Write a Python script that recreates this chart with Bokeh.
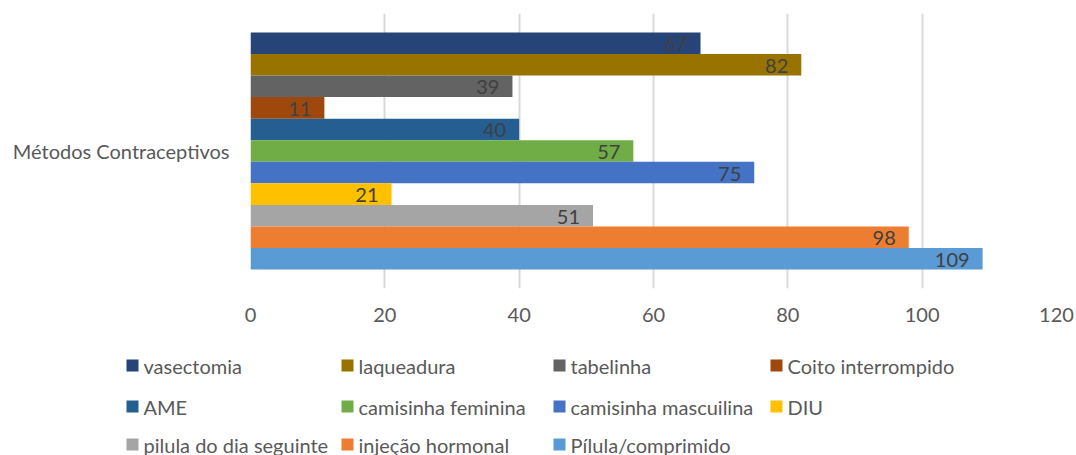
from bokeh.plotting import figure
from bokeh.models import ColumnDataSource, FactorRange, Range1d, FixedTicker
from bokeh.transform import dodge
from bokeh.layouts import column
from bokeh.embed import file_html
from bokeh.resources import INLINE
from bokeh.core.properties import value

# ---- data ----
category = "Métodos Contraceptivos"
series = ["vasectomia", "laqueadura", "tabelinha", "Coito interrompido",
          "AME", "camisinha feminina", "camisinha mascuilina", "DIU",
          "pilula do dia seguinte", "injeção hormonal", "Pílula/comprimido"]
values = [67, 82, 39, 11, 40, 57, 75, 21, 51, 98, 109]
colors = ["#264478", "#997300", "#636363", "#9E480E",
          "#255E91", "#70AD47", "#4472C4", "#FFC000",
          "#A5A5A5", "#ED7D31", "#5B9BD5"]
x_ticks = [0, 20, 40, 60, 80, 100, 120]

# ---- style / layout ----
FONT = "Lato"
FS = "20px"
W = 1076
H_MAIN = 340
H_LEG = 115
BAR_H = 0.0784

p = figure(width=W, height=H_MAIN, x_range=Range1d(0, 120),
           y_range=FactorRange(factors=[category], range_padding=0),
           output_backend="svg", toolbar_location=None,
           min_border_left=250, min_border_right=20,
           min_border_top=13, min_border_bottom=52)
p.frame_align = False

n = len(series)
for i, (s, v, c) in enumerate(zip(series, values, colors)):
    off = ((n - 1) / 2 - i) * BAR_H
    src = ColumnDataSource(dict(y=[category], x=[v], label=[str(v)]))
    p.hbar(y=dodge("y", off, range=p.y_range), left=0, right="x",
           height=BAR_H, fill_color=c, line_color=None, source=src)
    p.text(x="x", y=dodge("y", off, range=p.y_range), text="label", source=src,
           x_offset=-13, y_offset=1, text_align="right", text_baseline="middle",
           text_font=value(FONT), text_font_size=FS, text_color="#404040")

p.xaxis.ticker = FixedTicker(ticks=x_ticks)
p.xaxis.axis_line_color = None
p.xaxis.major_tick_line_color = None
p.xaxis.minor_tick_line_color = None
p.xaxis.major_label_standoff = 13
p.xaxis.major_label_text_font = FONT
p.xaxis.major_label_text_font_size = FS
p.xaxis.major_label_text_color = "#595959"

p.yaxis.axis_line_color = None
p.yaxis.major_tick_line_color = None
p.yaxis.minor_tick_line_color = None
p.yaxis.major_label_standoff = 15
p.yaxis.major_label_text_font = FONT
p.yaxis.major_label_text_font_size = FS
p.yaxis.major_label_text_color = "#595959"

p.xgrid.grid_line_color = "#D9D9D9"
p.xgrid.grid_line_width = 2
p.ygrid.grid_line_color = None
p.outline_line_color = None

# ---- legend (separate panel) ----
leg = figure(width=W, height=H_LEG, x_range=Range1d(0, W), y_range=Range1d(H_LEG, 0),
             output_backend="svg", toolbar_location=None,
             x_axis_type=None, y_axis_type=None, min_border=0)
leg.frame_align = False
leg.grid.visible = False
leg.outline_line_color = None

col_left = [126, 341, 553, 770]
row_y = [25, 66, 104]
sq_x, sq_y, tx = [], [], []
for i in range(n):
    r, c = divmod(i, 4)
    sq_x.append(col_left[c] + 6)
    sq_y.append(row_y[r])
    tx.append(col_left[c] + 17)

leg.scatter(x=sq_x, y=sq_y, marker="square", size=12, fill_color=colors, line_color=None)
leg.text(x=tx, y=sq_y, text=series, text_align="left", text_baseline="middle",
         text_font=value(FONT), text_font_size=FS, text_color="#595959")

layout = column(p, leg, spacing=0)
open("out.html", "w").write(file_html(layout, INLINE))
